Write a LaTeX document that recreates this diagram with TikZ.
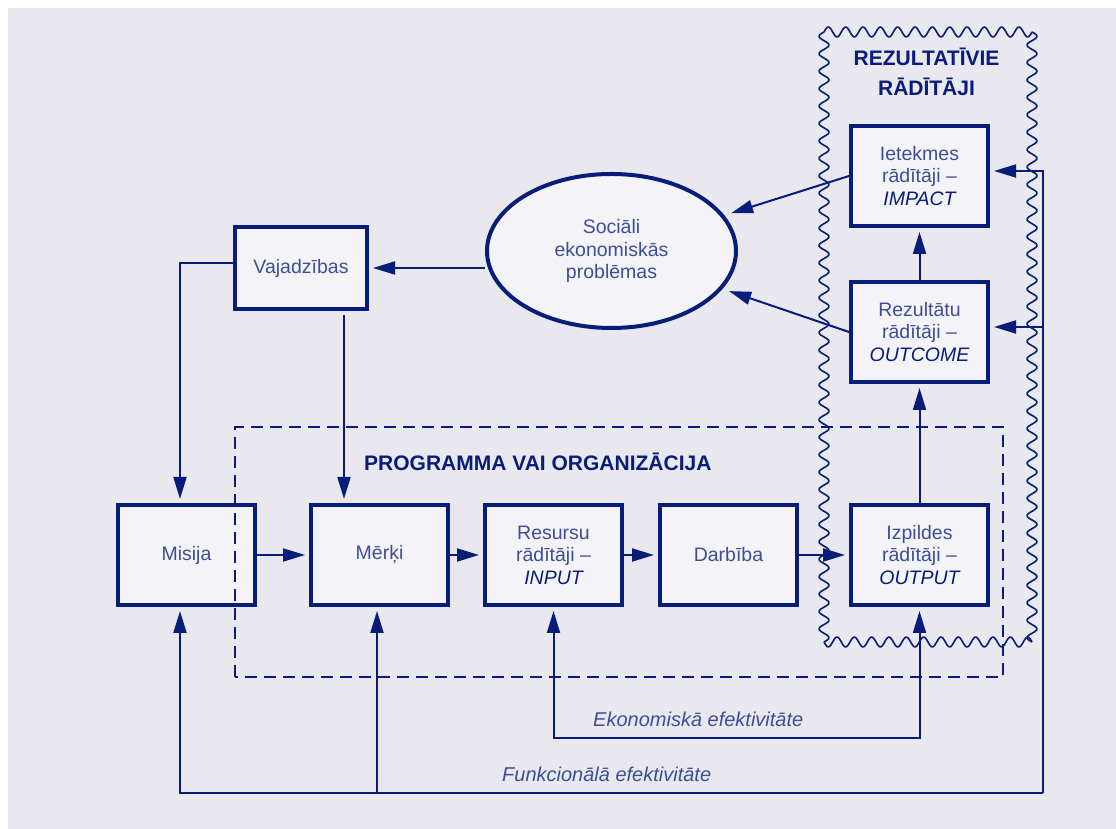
\documentclass[tikz,border=0pt]{standalone}
\usepackage{fontspec}
\setmainfont{Liberation Sans}
\usetikzlibrary{positioning,arrows.meta,shapes.geometric}
\definecolor{navy}{RGB}{8,28,122}
\definecolor{softblue}{RGB}{62,78,150}
\definecolor{boxfill}{RGB}{244,244,248}
\definecolor{panel}{RGB}{233,232,238}
\newcommand{\angl}[1]{{\color{navy}\itshape #1}}

\begin{document}
\begin{tikzpicture}[
  x=1pt, y=1pt,
  box/.style={draw=navy, line width=4pt, fill=boxfill, minimum width=137pt, minimum height=100pt,
    align=center, text=softblue, inner sep=2pt, font=\fontsize{19.5}{22.5}\selectfont},
  oval/.style={ellipse, draw=navy, line width=4pt, fill=boxfill, minimum width=249pt, minimum height=154pt,
    align=center, text=softblue, inner sep=2pt, font=\fontsize{19.5}{22.5}\selectfont},
  arrow/.style={draw=navy, line width=2pt, -{Triangle[length=22pt,width=13pt]}, shorten >=4pt},
  biarrow/.style={arrow, {Triangle[length=22pt,width=13pt]}-{Triangle[length=22pt,width=13pt]}, shorten <=4pt},
  tag/.style={text=softblue, inner sep=0pt, font=\fontsize{20}{24}\selectfont\itshape},
  heading/.style={text=navy, inner sep=0pt, align=center, font=\fontsize{21}{30}\selectfont\bfseries},
  wavy/.style={draw=navy, line width=1.6pt, line join=round, samples=420}
]
\useasboundingbox (0,0) rectangle (1116,829);
\fill[white] (0,0) rectangle (1116,829);
\fill[panel] (8,0) rectangle (1116,821);

% result indicators frame (wavy)
\draw[wavy] plot[domain=0:610] ({824+5*sin(20.655*\x)}, {187+\x});
\draw[wavy] plot[domain=0:610] ({1032-5*sin(20.655*\x)}, {187+\x});
\draw[wavy] plot[domain=0:208, samples=150] ({824+\x}, {797+5*sin(20.77*\x)});
\draw[wavy] plot[domain=0:208, samples=150] ({824+\x}, {187-5*sin(20.77*\x)});
\node[heading] (rezultativie) at (926.5,757) {REZULTATĪVIE\\RĀDĪTĀJI};

% chain
\node[box] (misija) at (186.5,274) {Misija};
\node[box, right=52pt of misija] (merki) {Mērķi};
\node[box, right=33pt of merki] (resursi) {Resursu\\rādītāji –\\\angl{INPUT}};
\node[box, right=34pt of resursi] (darbiba) {Darbība};
\node[box, right=50pt of darbiba] (izpilde) {Izpildes\\rādītāji –\\\angl{OUTPUT}};
\node[box, above=119pt of izpilde] (rezultati) {Rezultātu\\rādītāji –\\\angl{OUTCOME}};
\node[box, above=52pt of rezultati] (ietekme) {Ietekmes\\rādītāji –\\\angl{IMPACT}};
\node[oval] (problemas) at (611.5,578) {Sociāli\\ekonomiskās\\problēmas};
\node[box, minimum width=132pt, minimum height=82pt] (vajadzibas) at (301,561) {Vajadzības};

% programme frame
\draw[navy, line width=2.2pt, dash pattern=on 12pt off 7pt] (235,152) rectangle (1003,402);
\node[heading, anchor=base west] (programma) at (364,358) {PROGRAMMA VAI ORGANIZĀCIJA};

\draw[arrow] (misija) -- (merki);
\draw[arrow] (merki) -- (resursi);
\draw[arrow] (resursi) -- (darbiba);
\draw[arrow] (darbiba) -- (izpilde);
\draw[arrow] (izpilde) -- (rezultati);
\draw[arrow] (rezultati) -- (ietekme);
\draw[arrow, shorten >=7pt] (ietekme.west) -- (problemas);
\draw[arrow, shorten >=7pt] (rezultati.west) -- (problemas);
\draw[arrow] (problemas.west |- vajadzibas) -- (vajadzibas);
\draw[arrow] ([yshift=5pt]vajadzibas.west) -| ([xshift=-6.5pt]misija.north);
\draw[arrow, shorten <=4pt] ([xshift=43pt]vajadzibas.south) -- ([xshift=43pt]vajadzibas.south |- merki.north);

% efficiency loops
\coordinate (ekopamats) at (0,91);
\draw[biarrow] (resursi.south) -- (resursi.south |- ekopamats) -| (izpilde.south);
\node[tag, anchor=base west] (ekonomiska) at (593,102) {Ekonomiskā efektivitāte};

\coordinate (funpamats) at (1043,36);
\coordinate (misijaapaksa) at ([xshift=-6.5pt]misija.south);
\coordinate (merkiapaksa) at ([xshift=-2.5pt]merki.south);
\coordinate (ietekmesmala) at ([yshift=5pt]ietekme.east);
\coordinate (rezultatumala) at ([yshift=5pt]rezultati.east);
\draw[arrow] (funpamats) -- (misijaapaksa |- funpamats) -- (misijaapaksa);
\draw[arrow] (merkiapaksa |- funpamats) -- (merkiapaksa);
\draw[arrow] (funpamats) -- (funpamats |- ietekmesmala) -- (ietekmesmala);
\draw[arrow] (funpamats |- rezultatumala) -- (rezultatumala);
\node[tag, anchor=base west] (funkcionala) at (502,47) {Funkcionālā efektivitāte};
\end{tikzpicture}
\end{document}
